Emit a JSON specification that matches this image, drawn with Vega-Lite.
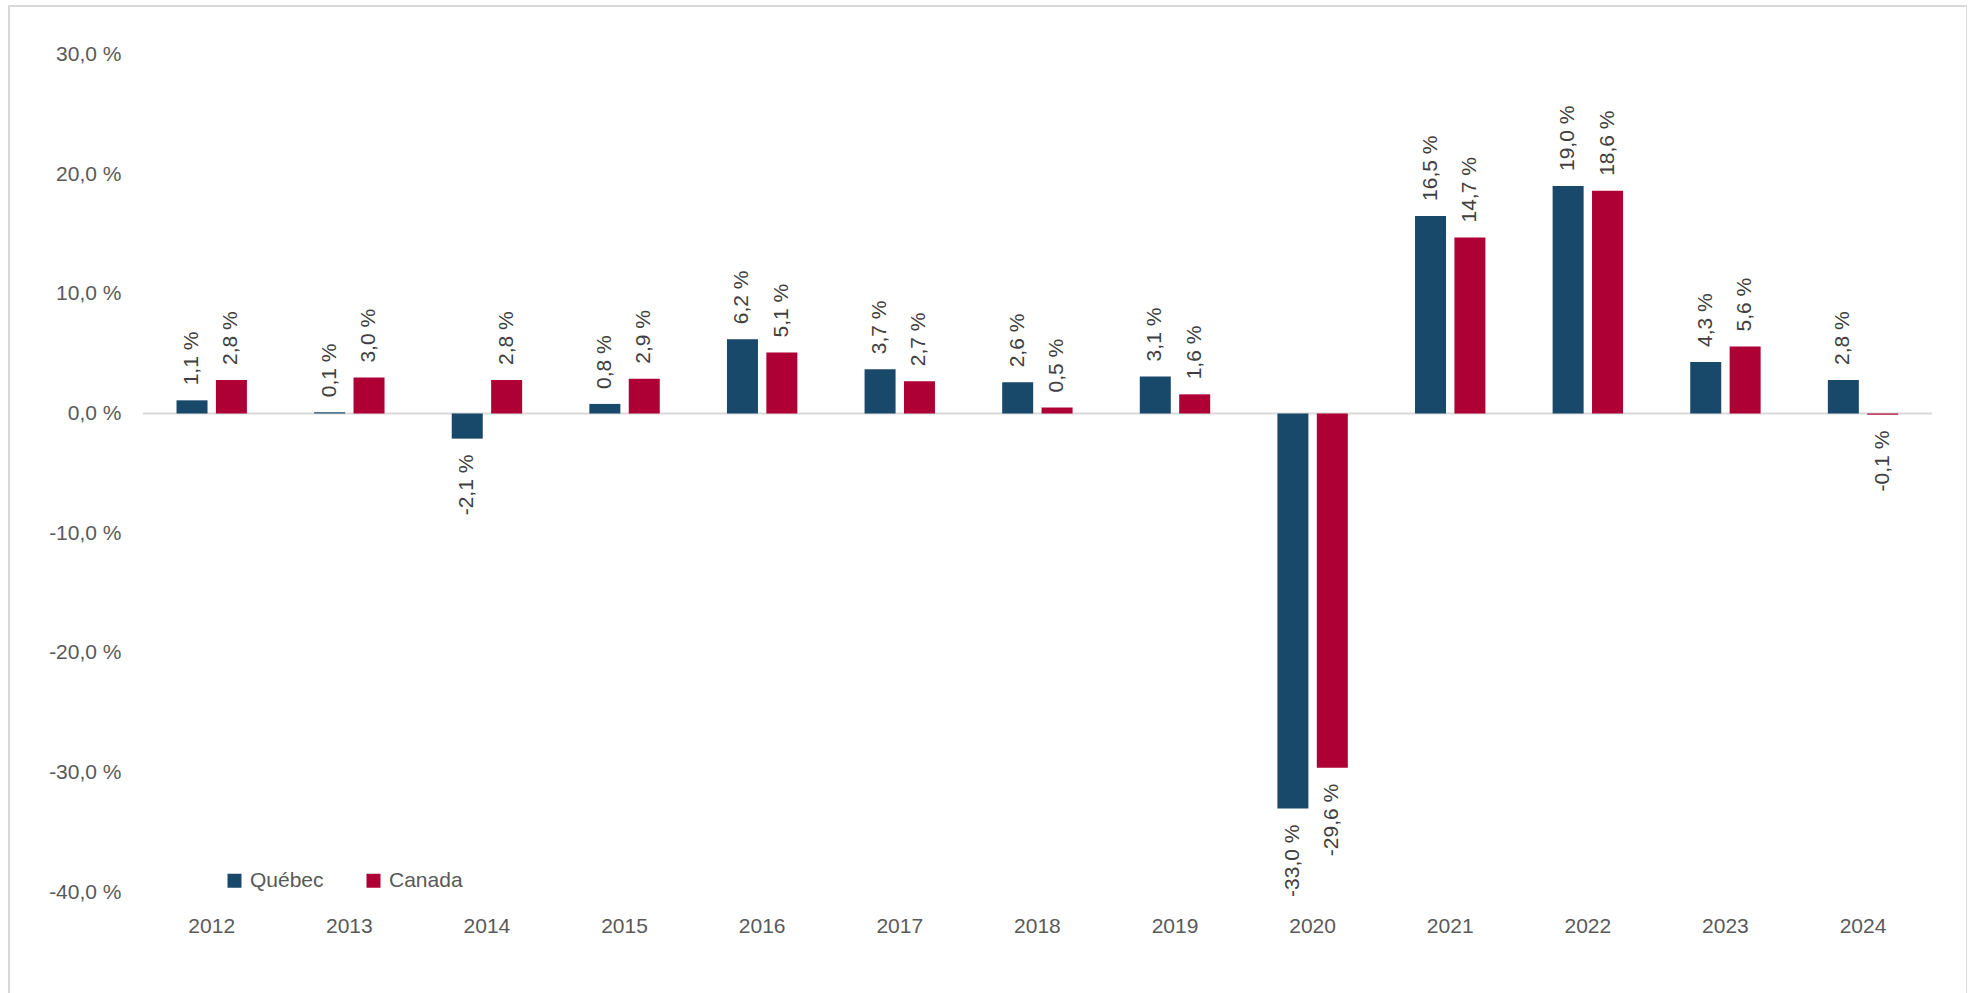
{
  "$schema": "https://vega.github.io/schema/vega-lite/v6.json",
  "width": 1958,
  "height": 990,
  "autosize": {"type": "none"},
  "padding": {"left": 9, "top": 6, "right": 0, "bottom": 0},
  "background": "#ffffff",
  "config": {
    "locale": {
      "number": {"decimal": ",", "thousands": " ", "grouping": [3], "currency": ["", " %"], "minus": "-"}
    },
    "view": {"stroke": "#d9d9d9", "strokeWidth": 2},
    "font": "Liberation Sans",
    "axis": {"labelFont": "Liberation Sans", "labelFontSize": 21, "labelColor": "#595959"},
    "legend": {"labelFont": "Liberation Sans"}
  },
  "data": {
    "values": [
      {"year": "2012", "series": "Québec", "v": 1.1},
      {"year": "2012", "series": "Canada", "v": 2.8},
      {"year": "2013", "series": "Québec", "v": 0.1},
      {"year": "2013", "series": "Canada", "v": 3.0},
      {"year": "2014", "series": "Québec", "v": -2.1},
      {"year": "2014", "series": "Canada", "v": 2.8},
      {"year": "2015", "series": "Québec", "v": 0.8},
      {"year": "2015", "series": "Canada", "v": 2.9},
      {"year": "2016", "series": "Québec", "v": 6.2},
      {"year": "2016", "series": "Canada", "v": 5.1},
      {"year": "2017", "series": "Québec", "v": 3.7},
      {"year": "2017", "series": "Canada", "v": 2.7},
      {"year": "2018", "series": "Québec", "v": 2.6},
      {"year": "2018", "series": "Canada", "v": 0.5},
      {"year": "2019", "series": "Québec", "v": 3.1},
      {"year": "2019", "series": "Canada", "v": 1.6},
      {"year": "2020", "series": "Québec", "v": -33.0},
      {"year": "2020", "series": "Canada", "v": -29.6},
      {"year": "2021", "series": "Québec", "v": 16.5},
      {"year": "2021", "series": "Canada", "v": 14.7},
      {"year": "2022", "series": "Québec", "v": 19.0},
      {"year": "2022", "series": "Canada", "v": 18.6},
      {"year": "2023", "series": "Québec", "v": 4.3},
      {"year": "2023", "series": "Canada", "v": 5.6},
      {"year": "2024", "series": "Québec", "v": 2.8},
      {"year": "2024", "series": "Canada", "v": -0.1}
    ]
  },
  "encoding": {
    "x": {
      "field": "year", "type": "nominal",
      "scale": {"paddingInner": 0.4884, "paddingOuter": 0.8585, "align": 0.709},
      "axis": {"title": null, "labelAngle": 0, "domain": false, "ticks": false, "tickSize": 0, "labelPadding": 10, "offset": -91, "grid": false}
    },
    "xOffset": {
      "field": "series", "type": "nominal",
      "scale": {"domain": ["Québec", "Canada"], "paddingInner": 0.213, "paddingOuter": 0}
    },
    "y": {
      "field": "v", "type": "quantitative",
      "scale": {"domain": [-48.66, 34.04], "nice": false, "zero": false},
      "axis": {"title": null, "values": [-40, -30, -20, -10, 0, 10, 20, 30], "format": "$.1f", "grid": false, "domain": false, "ticks": false, "tickSize": 0, "labelPadding": 22, "offset": -134}
    }
  },
  "layer": [
    {
      "data": {"values": [{"z": 0}]},
      "mark": {"type": "rule", "color": "#d9d9d9", "strokeWidth": 2},
      "encoding": {
        "x": {"datum": "2012", "type": "nominal", "bandPosition": -0.476},
        "x2": {"datum": "2024", "bandPosition": 1.48},
        "y": {"field": "z", "type": "quantitative"},
        "xOffset": null
      }
    },
    {
      "mark": {"type": "bar"},
      "encoding": {
        "y": {"field": "v", "type": "quantitative", "stack": null},
        "color": {
          "field": "series", "type": "nominal",
          "scale": {"domain": ["Québec", "Canada"], "range": ["#18496b", "#ae0034"]},
          "legend": {
            "title": null, "orient": "none", "legendX": 215, "legendY": 864,
            "direction": "horizontal", "symbolType": "square", "symbolSize": 196,
            "symbolStrokeWidth": 0, "labelFontSize": 21, "labelColor": "#595959",
            "labelOffset": 5, "columnPadding": 39, "padding": 0
          }
        }
      }
    },
    {
      "transform": [{"filter": "datum.v >= 0"}],
      "mark": {"type": "text", "angle": -90, "align": "left", "baseline": "middle", "dx": 15, "fontSize": 21, "color": "#404040"},
      "encoding": {"text": {"field": "v", "type": "quantitative", "format": "$.1f"}}
    },
    {
      "transform": [{"filter": "datum.v < 0"}],
      "mark": {"type": "text", "angle": -90, "align": "right", "baseline": "middle", "dx": -16, "fontSize": 21, "color": "#404040"},
      "encoding": {"text": {"field": "v", "type": "quantitative", "format": "$.1f"}}
    }
  ]
}
